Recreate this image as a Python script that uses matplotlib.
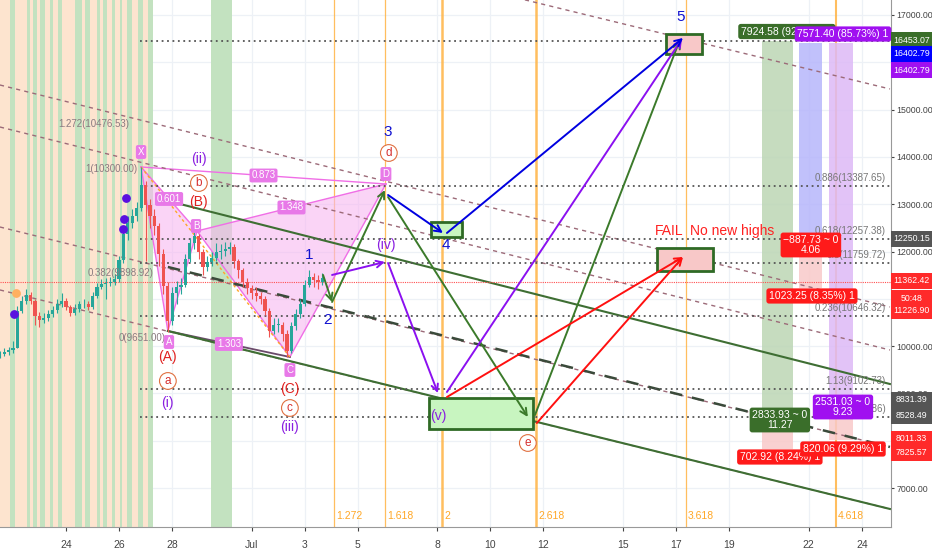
import matplotlib.pyplot as plt
import matplotlib.transforms as mtransforms
from matplotlib.patches import Rectangle, Polygon
import numpy as np
import pandas as pd

plt.rcParams['font.family'] = ['Liberation Sans', 'DejaVu Sans']

# ---- BTCUSD 4h candles ----
candle_times = pd.date_range('2019-06-21 12:00', periods=74, freq='4h')
closes = [9840, 9880, 9920, 9970, 10750, 10960, 11090, 10960, 10640, 10560,
          10600, 10670, 10770, 10880, 10960, 10830, 10710, 10790, 10880, 10900,
          10830, 11070, 11260, 11320, 11340, 11360, 11410, 11810, 12360, 12610,
          12760, 12910, 13400, 12980, 12760, 12530, 11940, 11280, 10540, 11130,
          11240, 11300, 11850, 12170, 12320, 11980, 11680, 11770, 11870, 11980,
          12020, 12060, 12090, 11790, 11600, 11360, 11220, 11130, 11050, 11000,
          10750, 10330, 10450, 10450, 10260, 9900, 10430, 10670, 10900, 11300,
          11470, 11390, 11360, 11430]
highs = [9900, 9950, 9990, 10100, 10850, 11050, 11200, 11150, 11000, 10720,
         10700, 10760, 10850, 10990, 11120, 11010, 10870, 10880, 10960, 10990,
         10960, 11150, 11330, 11420, 11450, 11460, 11520, 11900, 12500, 12750,
         12900, 13050, 13780, 13500, 13100, 12900, 12600, 12050, 11350, 11250,
         11380, 11450, 11950, 12280, 12420, 12380, 12050, 11900, 12000, 12180,
         12150, 12200, 12200, 12150, 11850, 11650, 11450, 11300, 11250, 11150,
         11050, 10800, 10600, 10600, 10500, 10350, 10500, 10780, 11000, 11400,
         11600, 11550, 11500, 11550]
lows = [9750, 9790, 9820, 9860, 9950, 10700, 10900, 10880, 10450, 10400,
        10480, 10540, 10610, 10700, 10820, 10760, 10630, 10650, 10730, 10800,
        10760, 10790, 11010, 11200, 11000, 11270, 11300, 11350, 11760, 12250,
        12500, 12650, 12850, 11800, 12500, 12350, 11700, 11100, 10300, 10450,
        10900, 11100, 11250, 11780, 12050, 11850, 11500, 11580, 11700, 11800,
        11850, 11900, 11950, 11650, 11450, 11250, 11100, 11000, 10950, 10900,
        10650, 10200, 10250, 10300, 10100, 9780, 9850, 10350, 10600, 10850,
        11250, 11250, 11200, 11300]
first_open = 9800
last_price = 11362.42

# x axis: days from 24 Jun 2019
date_ticks = [0, 2, 4, 7, 9, 11, 14, 16, 18, 21, 23, 25, 28, 30]
date_labels = ['24', '26', '28', 'Jul', '3', '5', '8', '10', '12', '15', '17', '19', '22', '24']
price_ticks = [7000, 8000, 9000, 10000, 11000, 12000, 13000, 14000, 15000, 16000, 17000]

# session highlight stripes (days)
peach_span = (-2.49, 3.27)
green_stripes = [(-2.11, -1.92), (-1.47, -1.35), (-1.24, -1.09), (-0.98, -0.79), (-0.60, -0.49),
                 (-0.30, -0.15), (0.34, 0.60), (0.71, 0.90), (1.17, 1.28), (1.39, 1.54),
                 (1.73, 1.84), (2.03, 2.11), (2.29, 2.48), (2.71, 2.89), (3.08, 3.27), (5.45, 6.24)]

# fib retracement levels (dotted)
fib_names = ['', '0.886', '0.618', '0.5', '0.236', '1.13', '1.272']
fib_prices = [16453.07, 13387.65, 12257.38, 11759.72, 10646.32, 9102.73, 8498.86]
fib_start = 2.79

# left fib labels
left_fib_text = ['1.272(10476.53)', '1(10300.00)', '0.382(9898.92)', '0(9651.00)']
left_fib_pos = [(2.37, 14696), (2.68, 13744), (3.28, 11546), (3.77, 10172)]

# fib time zones
time_levels = ['1.272', '1.618', '2', '2.618', '3.618', '4.618']
time_days = [10.10, 12.02, 14.17, 17.72, 23.37, 29.02]
time_widths = [0.9, 0.9, 1.8, 1.8, 0.9, 1.5]

# parallel channel lines: (day0, price0, day1, price1)
maroon_lines = [(17.30, 17320, 31.06, 15436), (-2.49, 15520, 31.06, 10827),
                (-2.49, 14632, 31.06, 9918), (-2.49, 12518, 31.06, 7868),
                (-2.49, 11187, 31.06, 6557)]
green_channel = [(4.30, 13004, 31.06, 9199), (3.84, 10320, 31.06, 6557)]
mid_channel = (3.84, 11673, 31.06, 7868)

# harmonic XABCD
pat_names = ['X', 'A', 'B', 'C', 'D']
pat_days = [2.83, 3.84, 4.94, 8.44, 12.06]
pat_prices = [13787, 10320, 12434, 9770, 13427]
pat_tag_pos = [(2.83, 14104), (3.88, 10087), (4.90, 12539), (8.44, 9495), (12.06, 13639)]
ratio_pairs = [(0, 2, '0.601'), (1, 3, '1.303'), (0, 4, '0.873'), (2, 4, '1.348')]

# projected wave paths (arrows): start, end
green_arrows = [((9.69, 11504), (10.03, 10933)), ((10.03, 10933), (12.02, 13300)),
                ((12.14, 13152), (17.41, 8502)), ((17.68, 8544), (23.14, 16472))]
purple_arrows = [((10.03, 11504), (12.02, 11779)), ((12.14, 11757), (14.02, 9009)),
                 ((14.36, 9030), (23.22, 16493))]
blue_arrows = [((12.14, 13195), (14.21, 12392)), ((14.36, 12392), (23.26, 16514))]
red_arrows = [((14.36, 8924), (23.26, 11884)), ((17.75, 8375), (23.26, 11884))]

# target boxes: (d0, d1, p0, p1, face)
target_boxes = [(13.76, 14.93, 12307, 12624, '#c8f5c0'), (13.68, 17.60, 8248, 8903, '#c8f5c0'),
                (22.62, 23.97, 16176, 16598, '#f8c8c8'), (22.28, 24.39, 11588, 12075, '#f8c8c8')]

# wave labels
wave_text = ['(A)', '(B)', '(C)', '(i)', '(ii)', '(iii)', '(iv)', '(v)', '1', '2', '3', '4', '5']
wave_pos = [(3.84, 9770), (4.98, 13047), (8.44, 9094), (3.84, 8798), (5.01, 13956), (8.44, 8290),
            (12.06, 12138), (14.02, 8523), (9.16, 11926), (9.84, 10552), (12.14, 14527),
            (14.32, 12138), (23.18, 16958)]
wave_color = ['#e0201e'] * 3 + ['#8a1ee0'] * 5 + ['#1010d0'] * 5
circle_text = ['a', 'b', 'c', 'd', 'e']
circle_pos = [(3.84, 9263), (5.01, 13448), (8.44, 8692), (12.17, 14083), (17.41, 7952)]

# long position tools
pos_days = [(26.23, 27.40), (27.63, 28.50), (28.76, 29.66)]
pos_entry = [8528.49, 12250.15, 8831.39]
pos_target = [16453.07, 16402.79, 16402.79]
pos_stop = [7825.57, 11226.90, 8011.33]
pos_fill = ['#bcd6b4', '#b6b6fb', '#ddb9f6']

# right axis price labels
axis_tags = ['16453.07', '16402.79', '16402.79', '12250.15', '11362.42', '50:48', '11226.90',
             '8831.39', '8528.49', '8011.33', '7825.57']
axis_tag_y = [16471, 16176, 15837, 12265, 11377, 11017, 10743, 8861, 8523, 8037, 7741]
axis_tag_col = ['#3a6e2a', '#0000ff', '#a010f0', '#555555', '#ff2a2a', '#ff2a2a', '#ff2a2a',
                '#555555', '#555555', '#ff2a2a', '#ff2a2a']

fig = plt.figure(figsize=(9.32, 5.5), dpi=100)
ax = fig.add_axes([0, 23 / 550, 891 / 932, 527 / 550])
ax.set_xlim(-2.488, 31.10)
ax.set_ylim(6176, 17317)

# grid
for d in date_ticks:
    ax.axvline(d, color='#edf1f6', lw=0.9, zorder=0.2)
for p in price_ticks:
    ax.axhline(p, color='#edf1f6', lw=0.9, zorder=0.2)

# session stripes
ax.axvspan(*peach_span, color='#fde4cf', lw=0, zorder=0.3)
for a, b in green_stripes:
    ax.axvspan(a, b, color='#c3e2c0', lw=0, zorder=0.4)

# fib time zones
for d, lab, w in zip(time_days, time_levels, time_widths):
    ax.axvline(d, color='#ffb74d', lw=w, zorder=1, alpha=0.9)
    ax.text(d + 0.08, 6300, lab, color='#ffa726', fontsize=7.5, ha='left', va='bottom', zorder=6)

# channel lines
for x0, y0, x1, y1 in maroon_lines:
    ax.plot([x0, x1], [y0, y1], color='#9c6a78', lw=1, ls=(0, (3, 3)), zorder=2.5)
for x0, y0, x1, y1 in green_channel:
    ax.plot([x0, x1], [y0, y1], color='#3e6e33', lw=1.5, zorder=2.6)
x0, y0, x1, y1 = mid_channel
ax.plot([x0, x1], [y0, y1], color='#3a4a3a', lw=1.8, ls=(0, (5, 4)), zorder=2.6)

# dotted fib retracement lines
ax.hlines(fib_prices, fib_start, 31.1, colors='#555555', linestyles=(0, (1, 2)), lw=1.3, zorder=2.7)
for name, p in zip(fib_names, fib_prices):
    if name:
        ax.text(30.9, p + 60, f'{name}({p:.2f})', color='#777777', fontsize=7, ha='right',
                va='bottom', zorder=2.8)
for txt, (d, p) in zip(left_fib_text, left_fib_pos):
    ax.text(d, p, txt, color='#8a7a80', fontsize=7, ha='right', va='center', zorder=6)

# current price line
ax.axhline(last_price, color='#ff5050', lw=0.8, ls=(0, (1, 1)), zorder=2.7)

# harmonic pattern
pts = list(zip(pat_days, pat_prices))
ax.add_patch(Polygon([pts[0], pts[1], pts[2]], closed=True, fc='#f7b8f1', ec='none', alpha=0.6, zorder=2))
ax.add_patch(Polygon([pts[2], pts[3], pts[4]], closed=True, fc='#f7b8f1', ec='none', alpha=0.6, zorder=2))
for i, j in [(0, 1), (1, 2), (2, 3), (3, 4), (0, 2), (2, 4), (0, 4)]:
    ax.plot([pts[i][0], pts[j][0]], [pts[i][1], pts[j][1]], color='#f06ee6', lw=1, zorder=2.1)
ax.plot([pts[1][0], pts[3][0]], [pts[1][1], pts[3][1]], color='#6a4a6a', lw=1.3, zorder=2.1)
ax.plot([pts[0][0], pts[3][0]], [pts[0][1], pts[3][1]], color='#ffa726', lw=1, ls=(0, (2, 2)), zorder=2.1)

# candles
t = ((candle_times - pd.Timestamp('2019-06-24')) / pd.Timedelta('1D')).to_numpy()
c = np.array(closes, dtype=float)
o = np.array([first_open] + closes[:-1], dtype=float)
col = np.where(c >= o, '#26a69a', '#ef5350')
ax.vlines(t, lows, highs, colors=col, lw=0.8, zorder=3)
ax.bar(t, np.maximum(np.abs(c - o), 15), bottom=np.minimum(o, c), width=0.12, color=col, zorder=3.1)

# signal dots
ax.scatter([2.26, 2.19, 2.15, -1.96], [13131, 12687, 12476, 10679], s=28, color='#5a10e0', zorder=3.5)
ax.scatter([-1.88], [11123], s=28, color='#ffb060', zorder=3.5)

# pattern tags
tag_style = dict(boxstyle='round,pad=0.2', fc='#e879e8', ec='none')
for name, (d, p) in zip(pat_names, pat_tag_pos):
    ax.text(d, p, name, color='white', fontsize=7, ha='center', va='center', bbox=tag_style, zorder=6)
for i, j, r in ratio_pairs:
    ax.text((pts[i][0] + pts[j][0]) / 2, (pts[i][1] + pts[j][1]) / 2, r, color='white', fontsize=7,
            ha='center', va='center', bbox=tag_style, zorder=6)

# target boxes
for d0, d1, p0, p1, fc in target_boxes:
    ax.add_patch(Rectangle((d0, p0), d1 - d0, p1 - p0, fc=fc, ec='#2f6a25', lw=2, zorder=3.8))

# arrows
for arrows, colr in [(green_arrows, '#3b7a2a'), (purple_arrows, '#8b10f0'),
                     (blue_arrows, '#0000e0'), (red_arrows, '#ff1010')]:
    for s, e in arrows:
        ax.annotate('', xy=e, xytext=s, zorder=4,
                    arrowprops=dict(arrowstyle='->', color=colr, lw=1.4, shrinkA=0, shrinkB=0,
                                    mutation_scale=12))

# wave labels
for txt, (d, p), colr in zip(wave_text, wave_pos, wave_color):
    fs = 11 if txt.isdigit() else 10
    ax.text(d, p, txt, color=colr, fontsize=fs, ha='center', va='center', zorder=6)
for txt, (d, p) in zip(circle_text, circle_pos):
    ax.text(d, p, txt, color='#d62f2f', fontsize=8.5, ha='center', va='center', zorder=6,
            bbox=dict(boxstyle='circle,pad=0.2', fc='white', ec='#e07040', lw=0.8))
ax.text(22.73, 12434, 'FAIL', color='#ff2020', fontsize=10, ha='center', va='center', zorder=6)
ax.text(23.52, 12434, 'No new highs', color='#ff2020', fontsize=10, ha='left', va='center', zorder=6)

# position tools
for (d0, d1), en, tg, st, fc in zip(pos_days, pos_entry, pos_target, pos_stop, pos_fill):
    ax.add_patch(Rectangle((d0, en), d1 - d0, tg - en, fc=fc, ec='none', alpha=0.85, zorder=2.2))
    ax.add_patch(Rectangle((d0, st), d1 - d0, en - st, fc='#f9c9c9', ec='none', alpha=0.85, zorder=2.2))


def tag(d, p, txt, fc, ha='center'):
    ax.text(d, p, txt, color='white', fontsize=7.5, ha=ha, va='center', zorder=7, linespacing=0.95,
            multialignment='center', bbox=dict(boxstyle='round,pad=0.25', fc=fc, ec='none'))


tag(25.44, 16651, '7924.58 (92.92%) 1', '#3a6e2a', ha='left')
tag(29.29, 16598, '7571.40 (85.73%) 1', '#a010f0')
tag(26.91, 8438, '2833.93 ~ 0\n11.27', '#3a6e2a')
tag(26.91, 7656, '702.92 (8.24%) 1', '#ff1a1a')
tag(28.08, 12138, '\u2212887.73 ~ 0\n4.06', '#ff1a1a')
tag(28.12, 11060, '1023.25 (8.35%) 1', '#ff1a1a')
tag(29.29, 8713, '2531.03 ~ 0\n9.23', '#a010f0')
tag(29.29, 7825, '820.06 (9.29%) 1', '#ff1a1a')

# axes styling
ax.set_xticks(date_ticks)
ax.set_xticklabels(date_labels)
ax.set_yticks(price_ticks)
ax.set_yticklabels([f'{p:.2f}' for p in price_ticks])
ax.yaxis.tick_right()
ax.tick_params(axis='x', labelsize=7.5, colors='#444444', length=3, pad=6)
ax.tick_params(axis='y', labelsize=6.3, colors='#444444', length=2, pad=2)
for s in ['top', 'left']:
    ax.spines[s].set_visible(False)
for s in ['right', 'bottom']:
    ax.spines[s].set_color('#999999')

# coloured price tags on the axis
trans = mtransforms.blended_transform_factory(ax.transAxes, ax.transData)
tag_w = 41 / 891
tag_h = 340
for txt, y, colr in zip(axis_tags, axis_tag_y, axis_tag_col):
    ax.add_patch(Rectangle((1.0, y - tag_h / 2), tag_w, tag_h, transform=trans, fc=colr, ec='none',
                           clip_on=False, zorder=8))
    ax.text(1.0 + tag_w / 2, y, txt, transform=trans, color='white', fontsize=6.3,
            ha='center', va='center', clip_on=False, zorder=9)

fig.savefig('out.png', dpi=100)
